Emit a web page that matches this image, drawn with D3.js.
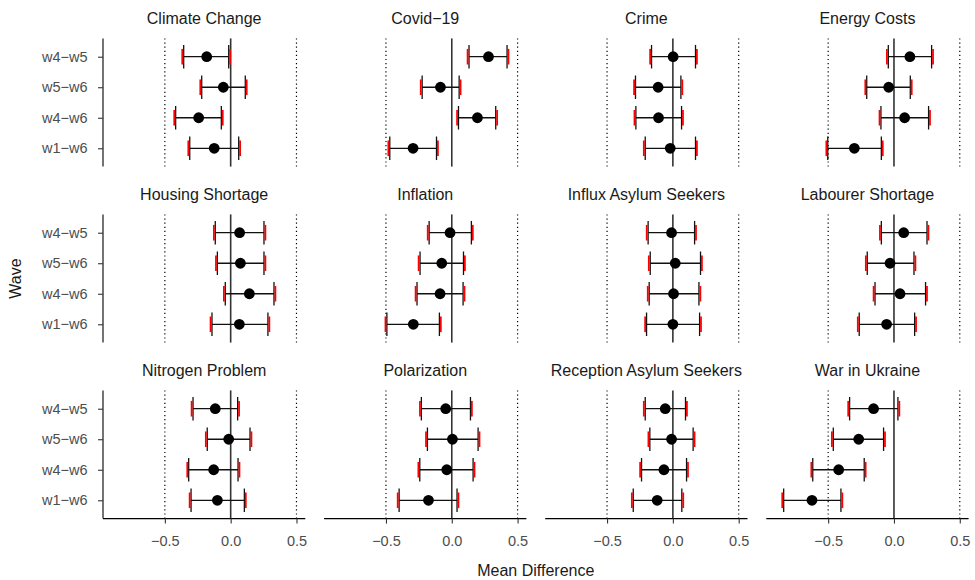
<!DOCTYPE html>
<html>
<head>
<meta charset="utf-8">
<script src="https://cdn.jsdelivr.net/npm/d3@7"></script>
<style>
  body { margin: 0; background: #fff; }
  svg { font-family: "Liberation Sans", Arial, Helvetica, sans-serif; }
</style>
</head>
<body>
<div id="chart"></div>
<script>
const width = 975, height = 580;

// facets, in reading order
const topics = [
    "Climate Change", "Covid\u221219", "Crime", "Energy Costs",
    "Housing Shortage", "Inflation", "Influx Asylum Seekers", "Labourer Shortage",
    "Nitrogen Problem", "Polarization", "Reception Asylum Seekers", "War in Ukraine"
];
const waves = ["w4\u2212w5", "w5\u2212w6", "w4\u2212w6", "w1\u2212w6"];

// mean difference per topic, one value per wave (order as in waves)
const estimates = [
    [-0.182, -0.056, -0.243, -0.125],
    [0.279, -0.086, 0.195, -0.294],
    [0.002, -0.112, -0.109, -0.020],
    [0.121, -0.040, 0.081, -0.301],
    [0.068, 0.074, 0.142, 0.066],
    [-0.013, -0.076, -0.089, -0.292],
    [-0.010, 0.018, 0.005, 0.000],
    [0.074, -0.030, 0.046, -0.056],
    [-0.117, -0.015, -0.129, -0.101],
    [-0.046, 0.005, -0.038, -0.177],
    [-0.058, -0.010, -0.068, -0.119],
    [-0.155, -0.268, -0.420, -0.623]
];
const lower = [
    [-0.357, -0.220, -0.418, -0.311],
    [0.131, -0.225, 0.051, -0.471],
    [-0.162, -0.284, -0.281, -0.210],
    [-0.043, -0.207, -0.099, -0.503],
    [-0.117, -0.101, -0.041, -0.142],
    [-0.172, -0.241, -0.264, -0.493],
    [-0.188, -0.172, -0.180, -0.200],
    [-0.096, -0.203, -0.144, -0.264],
    [-0.286, -0.178, -0.319, -0.301],
    [-0.231, -0.185, -0.243, -0.400],
    [-0.210, -0.175, -0.238, -0.301],
    [-0.337, -0.461, -0.617, -0.838]
];
const upper = [
    [-0.015, 0.111, -0.071, 0.061],
    [0.420, 0.056, 0.334, -0.116],
    [0.172, 0.061, 0.066, 0.172],
    [0.286, 0.124, 0.263, -0.096],
    [0.253, 0.253, 0.329, 0.283],
    [0.149, 0.089, 0.086, -0.094],
    [0.165, 0.210, 0.198, 0.203],
    [0.251, 0.152, 0.240, 0.157],
    [0.053, 0.147, 0.056, 0.104],
    [0.142, 0.200, 0.162, 0.040],
    [0.096, 0.154, 0.104, 0.068],
    [0.030, -0.079, -0.226, -0.403]
];
const refLines = [-0.5, 0, 0.5];
const xTicks = [-0.5, 0, 0.5];

const nCols = 4;
const panelW = 202.3, panelH = 128.2;
const left0 = 103, top0 = 38.4, colStep = 221.1, rowStep = 176;

const x = d3.scaleLinear().domain([-0.97, 0.567]).range([0, panelW]);
const y = d3.scalePoint().domain(waves).range([0, panelH]).padding(0.6);

const svg = d3.select("#chart").append("svg")
    .attr("width", width).attr("height", height);

const rows = topics.map((t, i) => ({
    topic: t, idx: i,
    col: i % nCols, row: Math.floor(i / nCols),
    points: waves.map((w, j) => ({
        wave: w, est: estimates[i][j], lo: lower[i][j], hi: upper[i][j]
    }))
}));
const nRows = d3.max(rows, d => d.row) + 1;

const panels = svg.selectAll("g.panel")
    .data(rows)
    .join("g")
    .attr("class", "panel")
    .attr("transform", d => `translate(${left0 + d.col * colStep},${top0 + d.row * rowStep})`);

// strip titles
panels.append("text")
    .attr("x", panelW / 2)
    .attr("y", -14.5)
    .attr("text-anchor", "middle")
    .attr("font-size", 16)
    .attr("fill", "#1a1a1a")
    .text(d => d.topic);

// reference lines
panels.selectAll("line.ref")
    .data(refLines)
    .join("line")
    .attr("class", "ref")
    .attr("x1", d => x(d)).attr("x2", d => x(d))
    .attr("y1", 0).attr("y2", panelH)
    .attr("stroke", d => d === 0 ? "#333" : "#000")
    .attr("stroke-width", d => d === 0 ? 1.6 : 1.2)
    .attr("stroke-dasharray", d => d === 0 ? null : "1.2,2.9");

const bars = panels.selectAll("g.bar")
    .data(d => d.points)
    .join("g")
    .attr("class", "bar")
    .attr("transform", d => `translate(0,${y(d.wave)})`);

// error bar body
bars.append("line")
    .attr("x1", d => x(d.lo)).attr("x2", d => x(d.hi))
    .attr("stroke", "#111").attr("stroke-width", 1.3);

// caps: black whisker ends with a red mark just outside
const capH = 23.5, redH = 15.6;
bars.selectAll("line.cap")
    .data(d => [d.lo, d.hi])
    .join("line")
    .attr("class", "cap")
    .attr("x1", d => x(d)).attr("x2", d => x(d))
    .attr("y1", -capH / 2).attr("y2", capH / 2)
    .attr("stroke", "#111").attr("stroke-width", 1.3);

bars.selectAll("line.red")
    .data(d => [[d.lo, -1], [d.hi, 1]])
    .join("line")
    .attr("class", "red")
    .attr("x1", d => x(d[0]) + d[1] * 1.4).attr("x2", d => x(d[0]) + d[1] * 1.4)
    .attr("y1", -redH / 2).attr("y2", redH / 2)
    .attr("stroke", "#ff0000").attr("stroke-width", 1.8);

bars.append("circle")
    .attr("cx", d => x(d.est))
    .attr("r", 5.4)
    .attr("fill", "#000");

// y axis on first column
panels.filter(d => d.col === 0).each(function() {
    const g = d3.select(this).append("g")
        .call(d3.axisLeft(y).tickSize(5).tickPadding(10.5));
    g.select(".domain").attr("stroke", "#000").attr("stroke-width", 1.1)
        .attr("d", `M0,0V${panelH}`);
    g.selectAll(".tick line").attr("stroke", "#333").attr("stroke-width", 1.1);
    g.selectAll(".tick text")
        .attr("font-size", 14.5).attr("fill", "#4d4d4d")
        .attr("font-family", "Liberation Sans, Arial, sans-serif");
});

// x axis on last row
panels.filter(d => d.row === nRows - 1).each(function() {
    const g = d3.select(this).append("g")
        .attr("transform", `translate(0,${panelH})`)
        .call(d3.axisBottom(x).tickValues(xTicks).tickFormat(d3.format(".1f")).tickSize(5).tickPadding(12));
    g.select(".domain").attr("stroke", "#000").attr("stroke-width", 1.1)
        .attr("d", `M0,0H${panelW}`);
    g.selectAll(".tick line").attr("stroke", "#333").attr("stroke-width", 1.1);
    g.selectAll(".tick text")
        .attr("font-size", 14.5).attr("fill", "#4d4d4d")
        .attr("font-family", "Liberation Sans, Arial, sans-serif");
});

// axis titles
svg.append("text")
    .attr("x", left0 + ((nCols - 1) * colStep + panelW) / 2)
    .attr("y", 576)
    .attr("text-anchor", "middle")
    .attr("font-size", 16)
    .attr("fill", "#1a1a1a")
    .text("Mean Difference");

svg.append("text")
    .attr("transform", `translate(21,${top0 + ((nRows - 1) * rowStep + panelH) / 2}) rotate(-90)`)
    .attr("text-anchor", "middle")
    .attr("font-size", 16)
    .attr("fill", "#1a1a1a")
    .text("Wave");
</script>
</body>
</html>
